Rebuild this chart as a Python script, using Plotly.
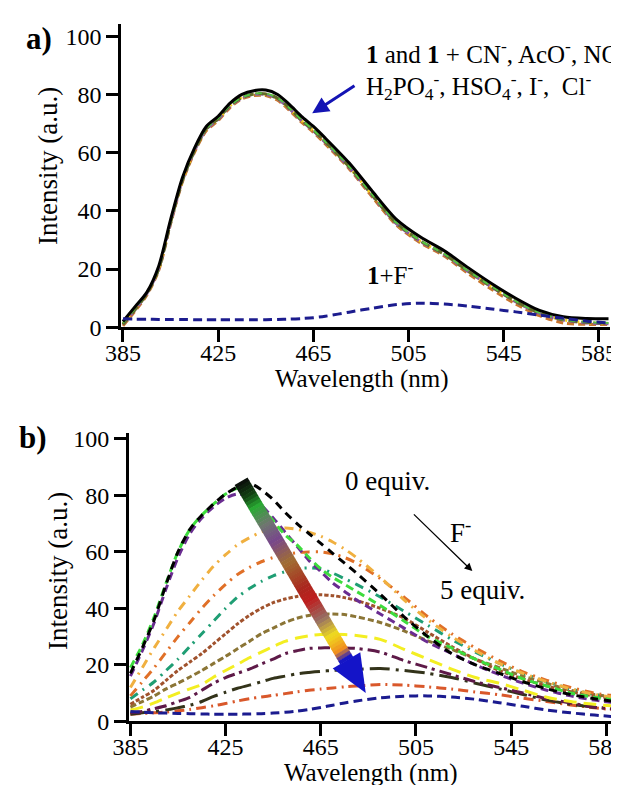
import plotly.graph_objects as go

W, H = 619, 785
FONT = "Liberation Serif"

# ---------------- Panel a data ----------------
wl_a = [385, 390, 395, 400, 405, 410, 415, 420, 425, 430, 435, 440, 445, 450, 455,
        460, 465, 470, 480, 490, 500, 510, 520, 530, 540, 550, 560, 570, 580, 589]
a_free = [2.0, 7.0, 12.0, 21.0, 37.0, 51.5, 61.5, 69.0, 72.5, 77.0, 80.0, 81.3, 81.5, 80.0, 76.5,
          72.5, 69.0, 65.0, 56.5, 46.5, 37.0, 31.0, 26.3, 20.5, 15.0, 10.0, 5.8, 3.6, 3.0, 2.9]
a_orange = [0.5, 5.5, 11.0, 19.5, 35.5, 50.0, 60.0, 67.5, 71.0, 75.5, 78.5, 79.6, 79.6, 78.0, 74.5,
            70.5, 67.0, 63.0, 54.5, 44.5, 35.0, 29.0, 24.5, 18.5, 13.0, 8.0, 4.0, 1.5, 1.0, 1.0]
a_yellow = [1.2, 6.2, 11.6, 20.2, 36.2, 50.7, 60.7, 68.1, 71.6, 76.1, 78.9, 80.1, 80.1, 78.6, 75.1,
            71.1, 67.6, 63.6, 55.1, 45.1, 35.6, 29.6, 25.1, 19.3, 13.9, 8.9, 4.9, 2.6, 1.6, 1.3]
a_purple = [1.0, 6.0, 11.5, 20.0, 36.0, 50.5, 60.5, 68.0, 71.5, 76.0, 78.8, 80.0, 80.0, 78.5, 75.0,
            71.0, 67.5, 63.5, 55.0, 45.0, 35.5, 29.5, 25.0, 19.2, 13.8, 8.8, 4.8, 2.5, 1.5, 1.2]
a_olive = [1.0, 6.0, 11.5, 20.0, 36.0, 50.5, 60.6, 68.2, 71.7, 76.2, 79.0, 80.2, 80.2, 78.7, 75.2,
           71.2, 67.7, 63.7, 55.2, 45.2, 35.7, 29.7, 25.1, 19.3, 13.9, 8.9, 4.9, 2.6, 1.7, 1.4]
a_green = [1.5, 6.5, 11.8, 20.5, 36.5, 51.0, 61.0, 68.3, 71.8, 76.3, 79.0, 80.3, 80.3, 78.8, 75.3,
           71.3, 67.8, 63.8, 55.3, 45.3, 35.8, 29.8, 25.2, 19.4, 14.0, 9.0, 5.0, 2.7, 1.8, 1.5]
a_fluoride = [2.9, 2.8, 2.8, 2.7, 2.7, 2.7, 2.6, 2.6, 2.6, 2.6, 2.6, 2.6, 2.6, 2.7, 2.8,
              3.0, 3.3, 3.8, 5.2, 6.6, 7.8, 8.3, 8.0, 7.3, 6.3, 5.3, 4.2, 3.1, 2.1, 1.5]

# ---------------- Panel b data ----------------
wl_b = [385, 390, 395, 400, 405, 410, 415, 420, 425, 430, 435, 440, 445, 450, 455, 460,
        465, 470, 475, 480, 490, 500, 510, 520, 530, 540, 550, 560, 570, 580, 594]
b_00 = [17, 26, 36, 48.5, 60, 68, 73, 77, 80.5, 83, 84.3, 82, 78.5, 74, 70, 66.5,
        63, 59.5, 56, 52.5, 45, 37, 30, 24, 20, 17, 14, 11.5, 9.5, 8, 6.5]
b_05 = [19, 27, 37, 49, 60, 68, 73, 77, 80.5, 82.5, 82, 76, 71, 66, 62.5, 58,
        54, 51, 48.5, 46, 41, 35.5, 30, 26, 22, 18.5, 15, 12.5, 10, 8.5, 7]
b_10 = [16, 25, 35, 47, 58, 66.5, 72, 76, 79, 80.5, 79.5, 76.5, 72, 67, 62, 57,
        53, 49, 46, 43, 38, 33, 28, 24, 20, 16.5, 13.5, 11, 9, 7.5, 6]
b_15 = [12, 19, 26, 32.5, 39, 44.5, 50, 55, 59, 62.5, 65, 67, 68.3, 68.5, 68, 67,
        65.5, 63.5, 61, 58, 51, 43, 36, 30, 25, 20.5, 17, 14, 11.5, 9.5, 8]
b_20 = [9, 14, 19, 24.5, 30, 35, 40, 44.5, 48.5, 52, 54.5, 56.5, 58, 59, 59.7, 60,
        60, 59.3, 58, 56, 50.5, 44, 37, 31, 26, 21.5, 17.5, 14.5, 12, 10, 8.5]
b_25 = [8, 11, 14, 18, 22, 26.5, 31, 35.5, 40, 44, 47, 49.5, 51.5, 53, 54, 54.3,
        54, 52.5, 50.5, 48.5, 44, 39, 34, 29, 24.5, 20.5, 17, 14, 11.5, 9.5, 7.5]
b_30 = [6, 8.5, 11, 14.5, 18, 21, 24, 27.5, 31, 34.5, 37.5, 40, 42, 43.3, 44.2, 44.7,
        44.8, 44.5, 43.8, 42.8, 40, 36.5, 31.5, 26.5, 22, 18, 15, 12.5, 10.5, 9, 7.5]
b_35 = [5, 7, 9, 11.5, 13.5, 15.7, 18, 20.5, 23, 25.7, 28.3, 31, 33, 35, 36.5, 37.5,
        38, 38, 37.8, 37, 35, 32, 28.5, 25.5, 22, 19, 16, 13.5, 11, 9.5, 8]
b_40 = [4, 5, 6.5, 8.3, 10, 11.5, 13, 15.7, 18, 20.2, 22.5, 24.5, 26.5, 28.3, 29.5, 30.3,
        30.7, 30.8, 30.7, 30.4, 29, 25.5, 22, 18.5, 15.5, 13.5, 11, 8.5, 7, 6, 5]
b_45 = [3, 3.5, 4.5, 5.5, 7, 8.5, 11, 13.5, 15.5, 17, 18.5, 20.3, 22, 24, 25, 25.8,
        26, 26, 26, 25.8, 24.5, 21.5, 19, 16.5, 14, 12, 10, 8, 6.5, 5, 4]
b_47 = [2.5, 3, 3.5, 4, 4.8, 5.7, 7, 8.8, 10.3, 11.7, 12.8, 14, 15.2, 16, 16.8, 17.3,
        17.7, 18, 18.2, 18.4, 18.7, 18, 17, 15.5, 13.5, 11.5, 9.5, 7.5, 6, 5, 4]
b_49 = [2.5, 2.8, 3, 3.3, 3.7, 4.2, 4.8, 5.5, 6.3, 7.2, 8, 8.6, 9.2, 9.8, 10.4, 11,
        11.4, 11.8, 12.2, 12.5, 13, 12.8, 12.2, 11.4, 10.4, 9.4, 8.2, 7, 5.8, 4.8, 3.5]
b_50 = [3.5, 3.2, 3, 2.9, 2.8, 2.7, 2.6, 2.5, 2.5, 2.5, 2.6, 2.7, 2.9, 3.2, 3.6, 4.2,
        4.9, 5.7, 6.5, 7.2, 8.3, 8.9, 9, 8.6, 7.8, 6.6, 5.3, 4.0, 3.0, 2.2, 1.3]

x_ticks = [385, 425, 465, 505, 545, 585]
y_ticks = [0, 20, 40, 60, 80, 100]

# ---------------- layout geometry (pixels) ----------------
A_L, A_R, A_T, A_B = 113.3, 601.7, 16.0, 319.3
B_L, B_R, B_T, B_B = 121.0, 619.0, 425.0, 713.3
A_XR, A_YR = [384.3, 589.5], [0, 104.2]
B_XR, B_YR = [384.4, 593.7], [0, 102.1]

fig = go.Figure()

def add(x, y, color, dash, width, xa, ya, shape="spline"):
    fig.add_trace(go.Scatter(x=x, y=y, mode="lines", xaxis=xa, yaxis=ya,
                             line=dict(color=color, dash=dash, width=width, shape=shape, smoothing=0.8),
                             showlegend=False, hoverinfo="skip"))

# Panel a traces
add(wl_a, a_orange, "#c8742e", "7px,4px", 3, "x", "y")
add(wl_a, a_yellow, "#f2d21b", "2px,2px", 3, "x", "y")
add(wl_a, a_purple, "#8a5a9e", "8px,4px", 3, "x", "y")
add(wl_a, a_olive, "#5f6b2a", "9px,5px", 3, "x", "y")
add(wl_a, a_green, "#56c443", "6px,6px", 2, "x", "y")
add(wl_a, a_free, "#000000", "solid", 3, "x", "y")
add(wl_a, a_fluoride, "#1c1c8e", "9px,5px", 3, "x", "y")

# Panel b traces
b_series = [
    (b_49, "#d9582b", "10px,5px,2px,5px", 3),
    (b_47, "#33331a", "20px,6px,3px,6px", 3),
    (b_45, "#5e1a48", "12px,5px,3px,5px", 3),
    (b_40, "#f3ee22", "13px,7px", 3),
    (b_35, "#8b7536", "6px,3px", 3),
    (b_30, "#a0522d", "4px,2px", 3),
    (b_25, "#1f9e74", "9px,6px,2px,6px", 3),
    (b_20, "#e07028", "9px,6px,2px,6px", 3),
    (b_15, "#f0b040", "9px,6px,2px,6px", 3),
    (b_10, "#6a2c91", "8px,5px", 3),
    (b_05, "#3ddc3d", "8px,5px", 3),
    (b_00, "#000000", "8px,6px", 3),
    (b_50, "#1b1b8f", "9px,5px", 3),
]
for ys, c, d, w in b_series:
    add(wl_b, ys, c, d, w, "x2", "y2")

axis_common = dict(showline=True, linecolor="black", linewidth=3, ticks="outside",
                   ticklen=12, tickwidth=3, tickcolor="black", showgrid=False, zeroline=False,
                   tickfont=dict(family=FONT, size=24, color="black"), automargin=False)

fig.update_layout(
    width=W, height=H, margin=dict(l=0, r=0, t=0, b=0),
    paper_bgcolor="white", plot_bgcolor="white",
    xaxis=dict(domain=[A_L / W, A_R / W], range=A_XR, tickvals=x_ticks, anchor="y",
               ticklabelstandoff=-10, **axis_common),
    yaxis=dict(domain=[1 - A_B / H, 1 - A_T / H], range=A_YR, tickvals=y_ticks, anchor="x", **axis_common),
    xaxis2=dict(domain=[B_L / W, B_R / W], range=B_XR, tickvals=x_ticks, anchor="y2",
                ticklabelstandoff=-10, **axis_common),
    yaxis2=dict(domain=[1 - B_B / H, 1 - B_T / H], range=B_YR, tickvals=y_ticks, anchor="x2", **axis_common),
)

def txt(s, px, py, size, angle=0, xanchor="center", align="center"):
    fig.add_annotation(text=s, x=px / W, y=1 - py / H, xref="paper", yref="paper",
                       showarrow=False, textangle=angle, xanchor=xanchor, yanchor="middle",
                       align=align, font=dict(family=FONT, size=size, color="black"))

# axis titles & panel labels
txt("Wavelength (nm)", 354, 371, 25)
txt("Wavelength (nm)", 363, 765, 25)
txt("Intensity (a.u.)", 40, 158, 27, angle=-90)
txt("Intensity (a.u.)", 50, 563, 27, angle=-90)
txt("<b>a)</b>", 31, 31, 31)
txt("<b>b)</b>", 25, 429, 31)

# panel a labels
txt("<b>1</b> and <b>1</b> + CN<sup>-</sup>, AcO<sup>-</sup>, NO<sub>3</sub><sup>-</sup>,<br>"
    "H<sub>2</sub>PO<sub>4</sub><sup>-</sup>, HSO<sub>4</sub><sup>-</sup>, I<sup>-</sup>,  Cl<sup>-</sup>",
    356, 62, 25, xanchor="left", align="left")
txt("<b>1</b>+F<sup>-</sup>", 382, 265, 25)
fig.add_annotation(x=464.5, y=73.5, xref="x", yref="y", ax=482.9, ay=83.3, axref="x", ayref="y",
                   showarrow=True, arrowhead=2, arrowsize=1.1, arrowwidth=3, arrowcolor="#1414b4", text="")

# panel b labels
txt("0 equiv.", 380, 473, 27)
txt("F<sup>-</sup>", 453, 523, 27)
txt("5 equiv.", 474, 582, 27)
fig.add_annotation(x=528.7, y=53.2, xref="x2", yref="y2", ax=503.5, ay=73.8, axref="x2", ayref="y2",
                   showarrow=True, arrowhead=2, arrowsize=1.2, arrowwidth=1.3, arrowcolor="black", text="")

# gradient arrow in panel b (decorative)
bx_scale = (B_R - B_L) / (B_XR[1] - B_XR[0])
by_scale = (B_B - B_T) / (B_YR[1] - B_YR[0])
start = (431.5, 85.0)
tip = (483.9, 10.0)
sx, sy = (start[0] - B_XR[0]) * bx_scale, -(start[1]) * by_scale
tx, ty = (tip[0] - B_XR[0]) * bx_scale, -(tip[1]) * by_scale
L = ((tx - sx) ** 2 + (ty - sy) ** 2) ** 0.5
ux, uy = (tx - sx) / L, (ty - sy) / L
nx, ny = -uy, ux

def to_data(px, py):
    return B_XR[0] + px / bx_scale, -py / by_scale

stops = [(0.0, (10, 10, 10)), (0.07, (20, 70, 20)), (0.12, (40, 170, 50)), (0.2, (110, 120, 110)),
         (0.28, (120, 70, 140)), (0.38, (160, 110, 50)), (0.5, (170, 40, 30)), (0.56, (190, 30, 30)),
         (0.65, (150, 110, 100)), (0.73, (240, 220, 30)), (0.8, (240, 140, 30)), (0.84, (20, 20, 200)),
         (1.0, (20, 20, 200))]

def col(f):
    for (f0, c0), (f1, c1) in zip(stops[:-1], stops[1:]):
        if f0 <= f <= f1:
            t = (f - f0) / (f1 - f0) if f1 > f0 else 0
            return "rgb(%d,%d,%d)" % tuple(round(a + (b - a) * t) for a, b in zip(c0, c1))
    return "rgb(20,20,200)"

head_len = 38.0
shaft_end = (L - head_len) / L
N = 60
for i in range(N):
    f0 = shaft_end * i / N
    f1 = shaft_end * (i + 1.15) / N
    f1 = min(f1, shaft_end + 0.01)
    x0, y0 = to_data(sx + ux * L * f0, sy + uy * L * f0)
    x1, y1 = to_data(sx + ux * L * f1, sy + uy * L * f1)
    fig.add_shape(type="line", xref="x2", yref="y2", x0=x0, y0=y0, x1=x1, y1=y1,
                  line=dict(color=col((f0 + f1) / 2), width=15))
bx_, by_ = sx + ux * L * shaft_end, sy + uy * L * shaft_end
p1 = to_data(bx_ + nx * 16, by_ + ny * 16)
p2 = to_data(bx_ - nx * 16, by_ - ny * 16)
p3 = to_data(tx, ty)
fig.add_shape(type="path", xref="x2", yref="y2",
              path="M %f,%f L %f,%f L %f,%f Z" % (p1[0], p1[1], p2[0], p2[1], p3[0], p3[1]),
              fillcolor="rgb(20,20,200)", line=dict(width=0))

fig.write_html("out.html")
